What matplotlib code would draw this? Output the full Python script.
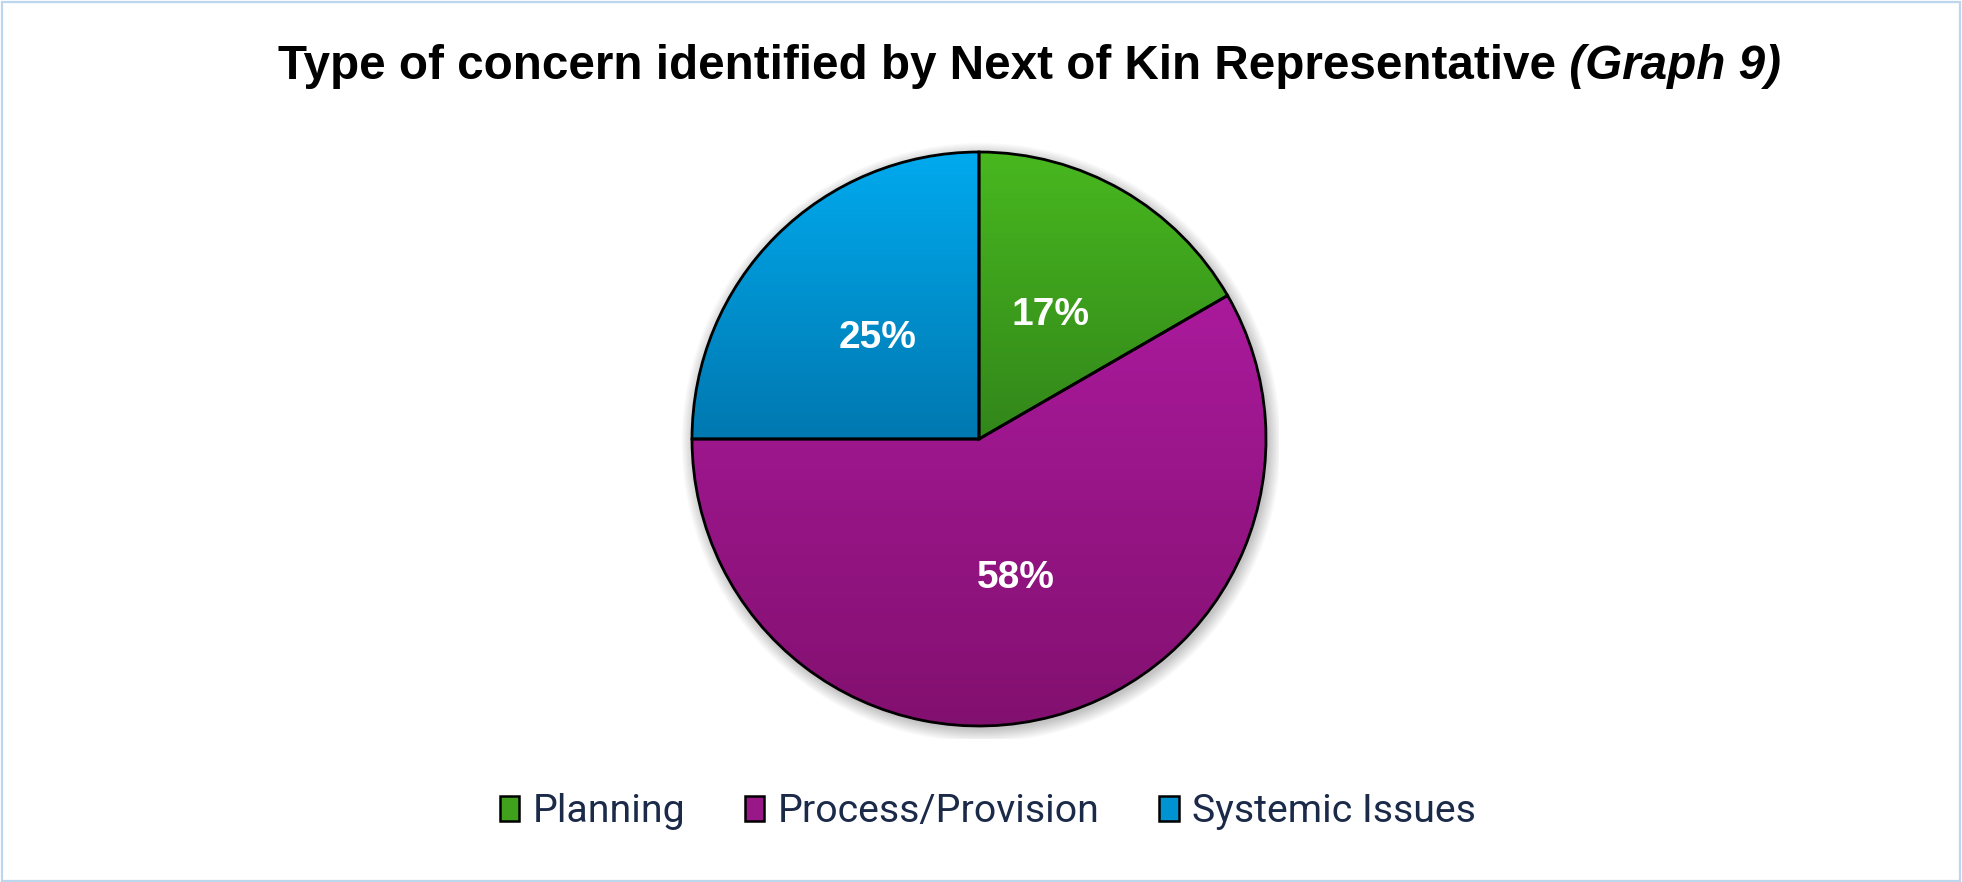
import numpy as np
from matplotlib import pyplot as plt
from matplotlib.patches import Rectangle, Circle, PathPatch
from matplotlib.colors import LinearSegmentedColormap

categories = ['Planning', 'Process/Provision', 'Systemic Issues']
values = [2, 7, 3]
top_colors = ['#48B81F', '#AA1A9C', '#00AAEE']
bottom_colors = ['#32861A', '#82106F', '#0078B0']
mid_colors = ['#3FA11C', '#981888', '#0093D2']

W, H = 1962, 882
fig = plt.figure(figsize=(W / 100, H / 100), dpi=100)
fig.patch.set_facecolor('white')

# thin light-blue frame round the whole chart
fig.add_artist(Rectangle((0.001, 0.001), 0.998, 0.997, transform=fig.transFigure,
                         fill=False, edgecolor='#BCD6EE', linewidth=1.6))

# pie axes: centre (979, 439) px from top, radius 287 px
R = 287
half = 300
cx, cy = 979, H - 439
ax = fig.add_axes([(cx - half) / W, (cy - half) / H, 2 * half / W, 2 * half / H])
lim = half / R
ax.axis('off')

# soft shadow
for i in range(12):
    ax.add_patch(Circle((0.008, -0.012), 1.0 + i * 0.004, facecolor='black',
                        edgecolor='none', alpha=0.018, zorder=0))

wedges, texts, autotexts = ax.pie(
    values, startangle=90, counterclock=False, colors=mid_colors,
    autopct='%1.0f%%', pctdistance=0.5, radius=1.0,
    wedgeprops=dict(edgecolor='none'),
    textprops=dict(color='white', fontsize=28, fontweight='bold',
                   family='Liberation Sans'))

# vertical gradient inside each wedge
for w, c_top, c_bot in zip(wedges, top_colors, bottom_colors):
    tr = w.get_patch_transform()
    pts = tr.transform(w.get_path().vertices)
    x0, x1 = pts[:, 0].min(), pts[:, 0].max()
    y0, y1 = pts[:, 1].min(), pts[:, 1].max()
    cmap = LinearSegmentedColormap.from_list('g', [c_bot, c_top])
    grad = np.linspace(0, 1, 256).reshape(-1, 1)
    im = ax.imshow(grad, cmap=cmap, extent=(x0, x1, y0, y1), origin='lower',
                   aspect='auto', zorder=1.5, interpolation='bicubic')
    im.set_clip_path(w)
    w.set_zorder(1)
    ax.add_patch(PathPatch(w.get_path(), transform=tr + ax.transData,
                           facecolor='none', edgecolor='black',
                           linewidth=2.0, zorder=2))

for t in autotexts:
    t.set_zorder(3)

ax.set_xlim(-lim, lim)
ax.set_ylim(-lim, lim)
ax.set_aspect('equal')

# title: bold part then bold italic part
t1 = fig.text(278 / W, 1 - 79 / H, 'Type of concern identified by Next of Kin Representative',
              fontsize=34.3, fontweight='bold', family='Liberation Sans',
              ha='left', va='baseline', color='black')
plt.annotate(' (Graph 9)', xy=(1, 0), xycoords=t1, xytext=(0, 0),
             textcoords='offset points', fontsize=34.3, fontweight='bold',
             fontstyle='italic', family='Liberation Sans', ha='left',
             va='bottom', color='black', annotation_clip=False)

# legend
handles = [Rectangle((0, 0), 1, 1, facecolor=c, edgecolor='black', linewidth=1.8)
           for c in mid_colors]
fig.legend(handles, categories, loc='center', bbox_to_anchor=(988 / W, 1 - 812 / H),
           ncol=3, frameon=False, handlelength=0.5, handleheight=0.62,
           handletextpad=0.35, columnspacing=1.5,
           prop=dict(family='Roboto', size=28.3), labelcolor='#1B2A48')

fig.savefig('out.png', dpi=100, facecolor='white')
